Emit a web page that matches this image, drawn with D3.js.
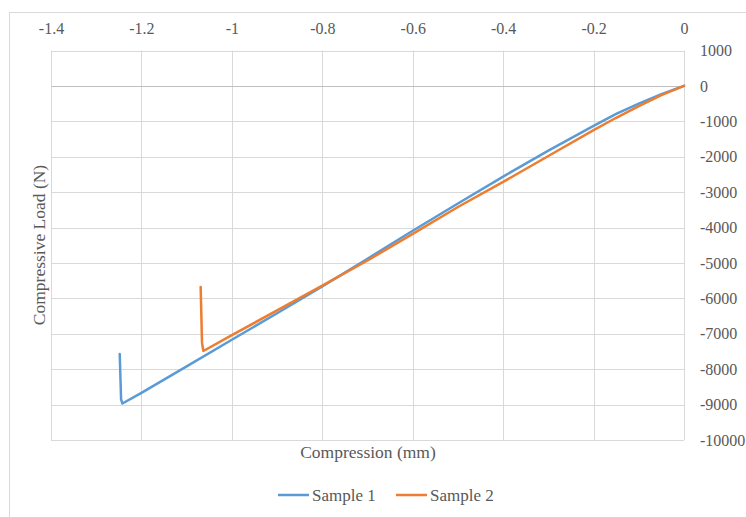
<!DOCTYPE html>
<html>
<head>
<meta charset="utf-8">
<script src="https://cdn.jsdelivr.net/npm/d3@7"></script>
<style>
body { margin: 0; background: #fff; }
</style>
</head>
<body>
<div id="chart"></div>
<script>
// data
var comp1 = [0, -0.05, -0.1, -0.15, -0.2, -0.3, -0.4, -0.5, -0.6, -0.7, -0.8, -0.9, -1.0, -1.1, -1.2, -1.242, -1.245, -1.248];
var load1 = [0, -230, -500, -790, -1130, -1830, -2560, -3320, -4090, -4880, -5660, -6420, -7170, -7920, -8670, -8970, -8850, -7570];
var comp2 = [0, -0.05, -0.1, -0.15, -0.2, -0.3, -0.4, -0.5, -0.6, -0.7, -0.8, -0.9, -1.0, -1.063, -1.066, -1.069];
var load2 = [0, -260, -570, -900, -1250, -1980, -2710, -3420, -4180, -4930, -5640, -6340, -7040, -7486, -7250, -5680];
var seriesNames = ["Sample 1", "Sample 2"];
var xTicks = [-1.4, -1.2, -1, -0.8, -0.6, -0.4, -0.2, 0];
var xTickLabels = ["-1.4", "-1.2", "-1", "-0.8", "-0.6", "-0.4", "-0.2", "0"];
var yTicks = [1000, 0, -1000, -2000, -3000, -4000, -5000, -6000, -7000, -8000, -9000, -10000];
var yTickLabels = ["1000", "0", "-1000", "-2000", "-3000", "-4000", "-5000", "-6000", "-7000", "-8000", "-9000", "-10000"];

var colors = ["#5B9BD5", "#ED7D31"];
var font = "'Liberation Serif', 'Times New Roman', serif";
var width = 746, height = 517;
var plot = { left: 51, right: 684, top: 50.5, bottom: 440 };

var svg = d3.select("#chart").append("svg")
	.attr("width", width)
	.attr("height", height);

// chart border
svg.append("rect")
	.attr("x", 9.5).attr("y", 12.5)
	.attr("width", 800).attr("height", 600)
	.attr("fill", "#fff")
	.attr("stroke", "#d9d9d9");

var x = d3.scaleLinear().domain([-1.4, 0]).range([plot.left, plot.right]);
var y = d3.scaleLinear().domain([-10000, 1000]).range([plot.bottom, plot.top]);

// gridlines
svg.append("g").selectAll("line")
	.data(xTicks)
	.enter().append("line")
	.attr("x1", function (d) { return Math.round(x(d)) + 0.5; })
	.attr("x2", function (d) { return Math.round(x(d)) + 0.5; })
	.attr("y1", plot.top).attr("y2", plot.bottom)
	.attr("stroke", "#d9d9d9");

svg.append("g").selectAll("line")
	.data(yTicks)
	.enter().append("line")
	.attr("x1", plot.left).attr("x2", plot.right)
	.attr("y1", function (d) { return Math.round(y(d)) + 0.5; })
	.attr("y2", function (d) { return Math.round(y(d)) + 0.5; })
	.attr("stroke", function (d) { return d === 0 ? "#bfbfbf" : "#d9d9d9"; });

// top axis labels
var topAxis = svg.append("g")
	.attr("transform", "translate(0," + plot.top + ")")
	.call(d3.axisTop(x).tickValues(xTicks).tickSize(0).tickPadding(17)
		.tickFormat(function (d, i) { return xTickLabels[i]; }));
topAxis.select(".domain").remove();
topAxis.selectAll("text")
	.style("font-family", font).style("font-size", "16px")
	.attr("fill", "#595959");

// right axis labels
var rightAxis = svg.append("g")
	.attr("transform", "translate(" + plot.right + ",0)")
	.call(d3.axisRight(y).tickValues(yTicks).tickSize(0).tickPadding(16)
		.tickFormat(function (d, i) { return yTickLabels[i]; }));
rightAxis.select(".domain").remove();
rightAxis.selectAll("text")
	.style("font-family", font).style("font-size", "16px")
	.attr("fill", "#595959");

// lines
var line = d3.line()
	.x(function (d) { return x(d[0]); })
	.y(function (d) { return y(d[1]); });

var series = [
	d3.zip(comp1, load1),
	d3.zip(comp2, load2)
];

series.forEach(function (s, i) {
	svg.append("path")
		.datum(s)
		.attr("d", line)
		.attr("fill", "none")
		.attr("stroke", colors[i])
		.attr("stroke-width", 2.5)
		.attr("stroke-linejoin", "round")
		.attr("stroke-linecap", "round");
});

// axis titles
svg.append("text")
	.attr("x", 368).attr("y", 458)
	.attr("text-anchor", "middle")
	.style("font-family", font).style("font-size", "17.5px")
	.attr("fill", "#595959")
	.text("Compression (mm)");

svg.append("text")
	.attr("transform", "translate(45,245) rotate(-90)")
	.attr("text-anchor", "middle")
	.style("font-family", font).style("font-size", "17.5px")
	.attr("fill", "#595959")
	.text("Compressive Load (N)");

// legend
var legendX = [278, 396];
seriesNames.forEach(function (name, i) {
	var g = svg.append("g").attr("transform", "translate(" + legendX[i] + ",495)");
	g.append("line")
		.attr("x1", 0).attr("x2", 31)
		.attr("stroke", colors[i]).attr("stroke-width", 2.5);
	g.append("text")
		.attr("x", 34).attr("y", 5.5)
		.style("font-family", font).style("font-size", "17px")
		.attr("fill", "#595959")
		.text(name);
});
</script>
</body>
</html>
